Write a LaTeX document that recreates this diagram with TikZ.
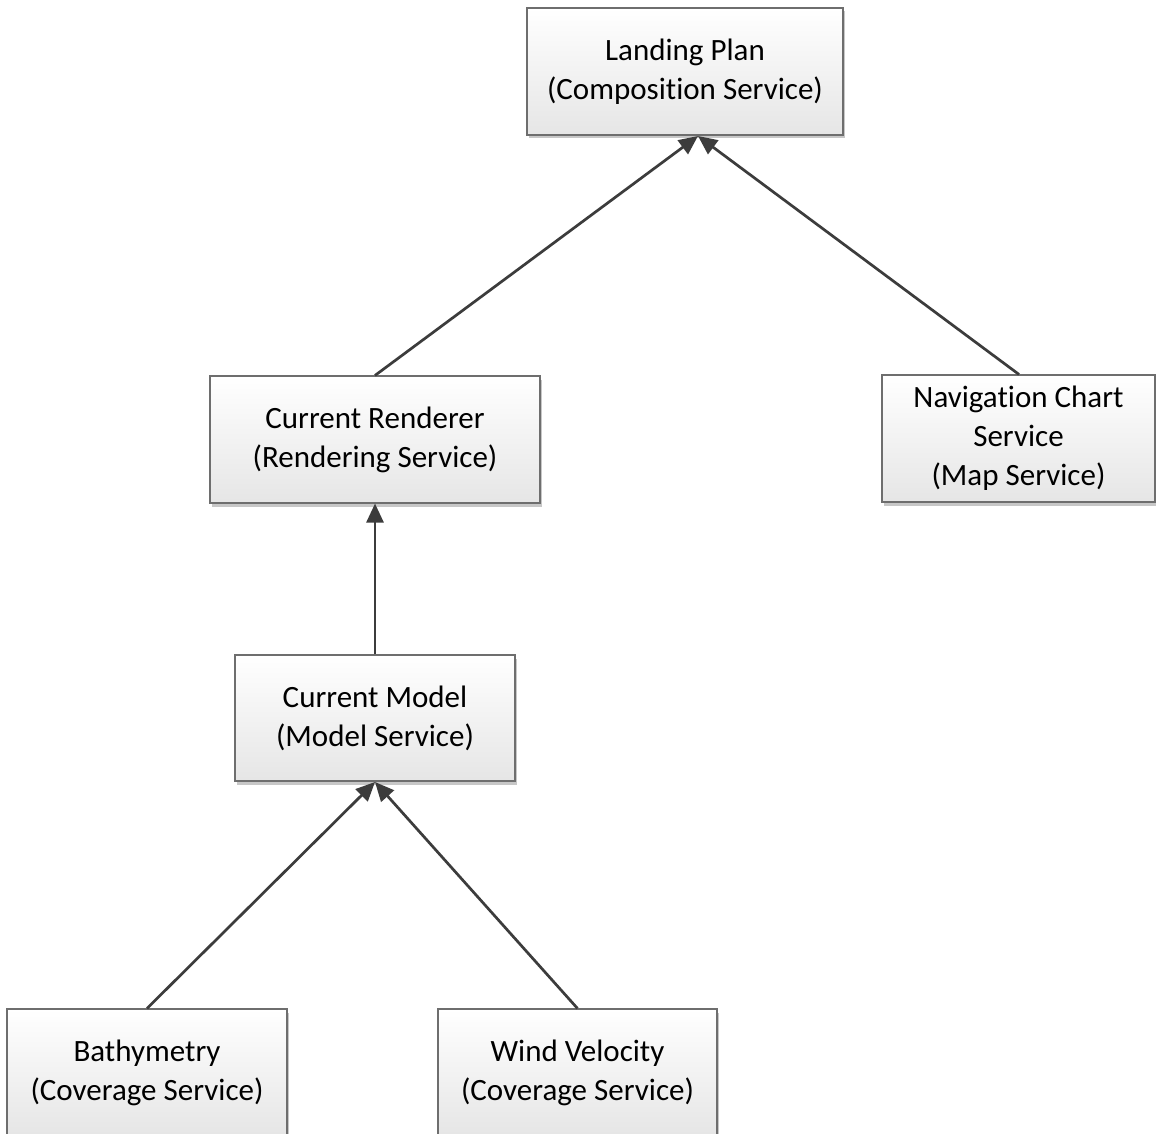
\documentclass[tikz,border=0pt]{standalone}
\usepackage{fontspec}
\setmainfont{Carlito}[Ligatures={NoCommon}]
\usetikzlibrary{arrows.meta,shadows}
\definecolor{edgegray}{HTML}{3C3C3C}
\definecolor{boxline}{HTML}{6E6E6E}
\begin{document}
\begin{tikzpicture}[x=1pt,y=-1pt,
  svcbox/.style={draw=boxline, line width=1.1pt, rectangle, align=center,
    top color=white, bottom color=black!10,
    drop shadow={shadow xshift=2pt, shadow yshift=-3.5pt, fill=black!22, opacity=1},
    font=\fontsize{31}{39}\selectfont, inner sep=0pt},
  link/.style={draw=edgegray, line width=2.7pt,
    -{Triangle[length=19pt,width=17pt,fill=edgegray]}}
]
\clip (0,0) rectangle (1156,1134);
\fill[white] (0,0) rectangle (1156,1134);

\node[svcbox, minimum width=316pt, minimum height=127pt] (lp) at (685,71.5)
  {Landing Plan\\(Composition Service)};
\node[svcbox, minimum width=330pt, minimum height=127pt] (cr) at (375,439.5)
  {Current Renderer\\(Rendering Service)};
\node[svcbox, minimum width=273pt, minimum height=127pt] (nc) at (1018.5,438.5)
  {Navigation Chart\\Service\\(Map Service)};
\node[svcbox, minimum width=280pt, minimum height=126pt] (cm) at (375,718)
  {Current Model\\(Model Service)};
\node[svcbox, minimum width=280pt, minimum height=127pt] (ba) at (147,1072.5)
  {Bathymetry\\(Coverage Service)};
\node[svcbox, minimum width=279pt, minimum height=127pt] (wv) at (577.5,1072.5)
  {Wind Velocity\\(Coverage Service)};

\coordinate (lpin) at (698,136);
\coordinate (cmin) at (375,782);

\draw[link] (cr.north) -- (lpin);
\draw[link] (nc.north -| 1019,0) -- (lpin);
\draw[link] (cm.north) -- (cr.south);
\draw[link] (ba.north) -- (cmin);
\draw[link] (wv.north) -- (cmin);
\end{tikzpicture}
\end{document}
